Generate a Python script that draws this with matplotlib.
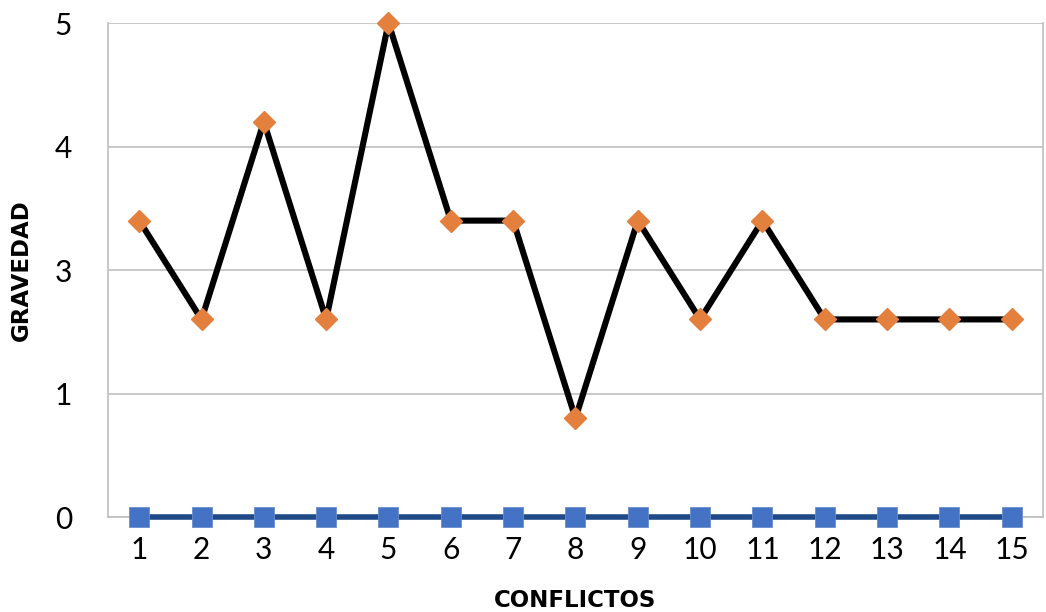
import matplotlib
import matplotlib.pyplot as plt
from matplotlib.ticker import FixedLocator, FuncFormatter

matplotlib.rcParams["font.family"] = ["Lato", "DejaVu Sans"]

# datos
conflictos = list(range(1, 16))
gravedad = [3, 2, 4, 2, 5, 3, 3, 1, 3, 2, 3, 2, 2, 2, 2]
base = [0] * 15
y_ticks = [0, 1.25, 2.5, 3.75, 5]

GRID = "#BFBFBF"

fig = plt.figure(figsize=(10.46, 6.12), dpi=100)
ax = fig.add_axes([0.1033, 0.1552, 0.8937, 0.8072])

ax.plot(conflictos, base, color="#1F4A87", linewidth=4.0, marker="s",
        markersize=15, markerfacecolor="#4472C4", markeredgecolor="#6A8FD0",
        markeredgewidth=0.6, zorder=3, clip_on=False)
ax.plot(conflictos, gravedad, color="black", linewidth=4.4, marker="D",
        markersize=11.5, markerfacecolor="#E3803E", markeredgecolor="#E3803E",
        zorder=4, clip_on=False)

ax.set_xlim(0.5, 15.5)
ax.set_ylim(0, 5)
ax.set_xticks(conflictos)
ax.yaxis.set_major_locator(FixedLocator(y_ticks))
# Excel muestra las marcas con formato "0"
ax.yaxis.set_major_formatter(FuncFormatter(lambda v, p: f"{int(v + 0.5)}"))

ax.grid(axis="y", color=GRID, linewidth=1.2, zorder=0)
for side in ["left", "right", "bottom"]:
    ax.spines[side].set_color(GRID)
    ax.spines[side].set_linewidth(1.2)
ax.spines["top"].set_visible(False)

ax.tick_params(axis="both", length=0, labelsize=21.5)
ax.tick_params(axis="y", pad=26)
ax.tick_params(axis="x", pad=14)

ax.set_xlabel("CONFLICTOS", fontsize=16.5, fontweight="bold",
              family=["DejaVu Sans"], labelpad=18)
ax.set_ylabel("GRAVEDAD", fontsize=16.5, fontweight="bold",
              family=["DejaVu Sans"])
ax.yaxis.set_label_coords(-0.080, 0.5)

fig.savefig("out.png", dpi=100)
